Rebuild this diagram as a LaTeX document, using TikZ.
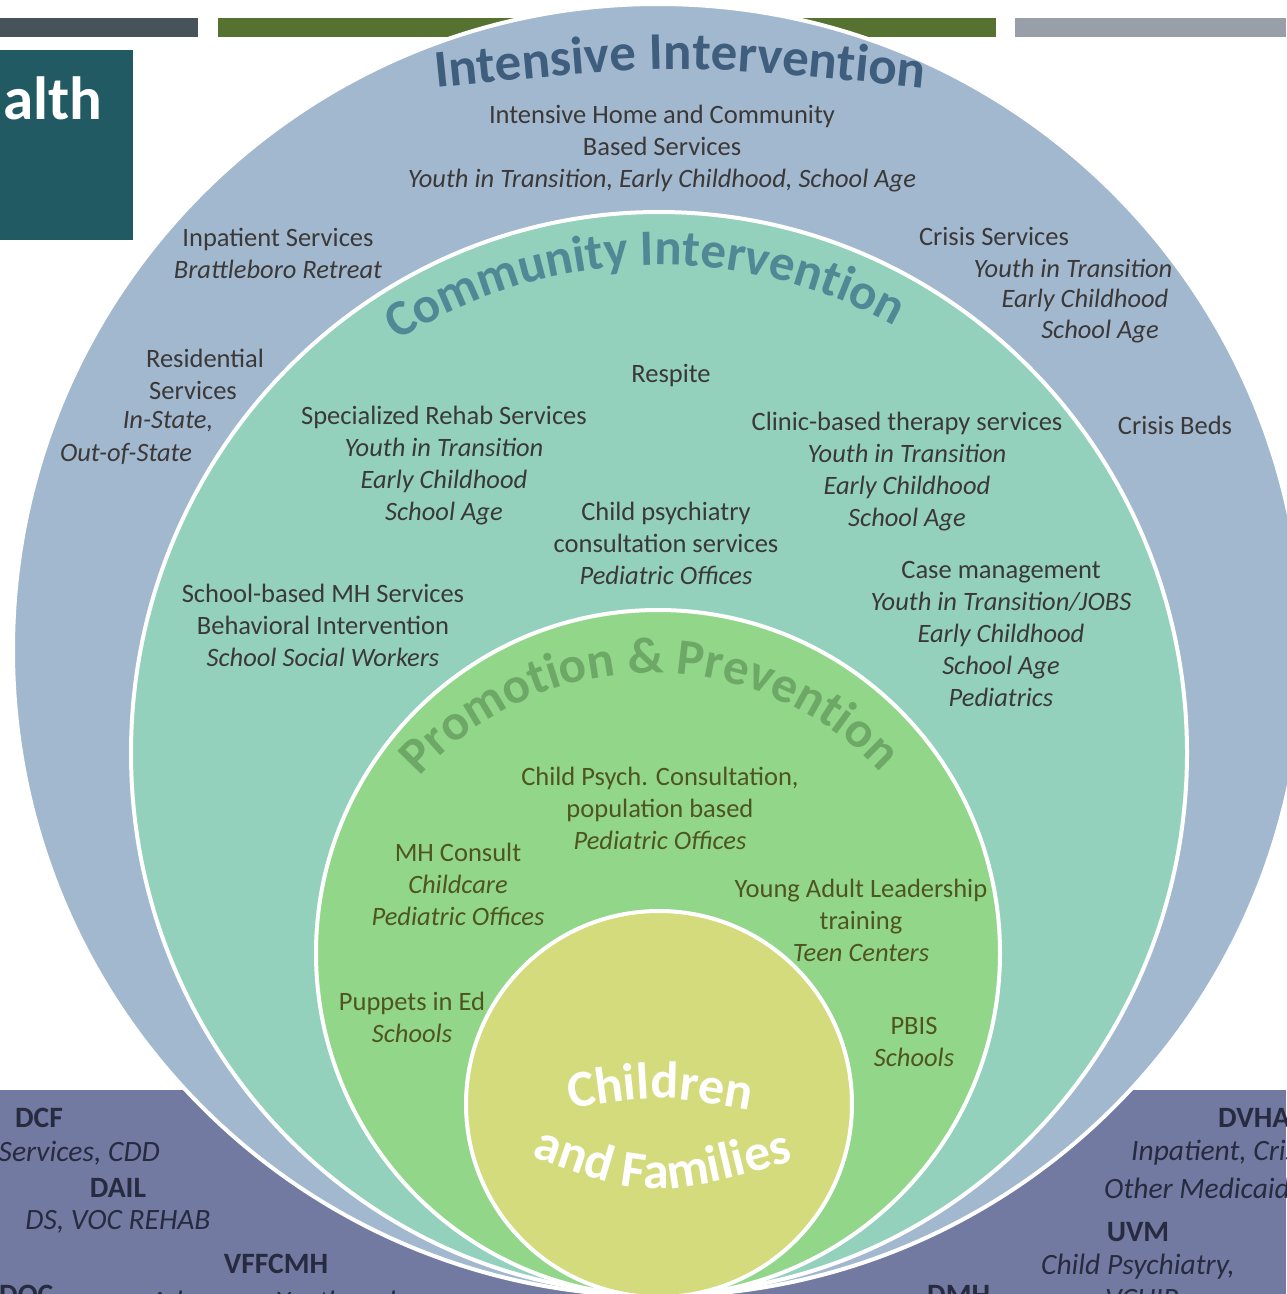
\documentclass[tikz,border=0pt]{standalone}
\usepackage{fontspec}
\setmainfont{Carlito}
\usetikzlibrary{decorations.text}

\definecolor{ringblue}{HTML}{A2B8CF}
\definecolor{ringteal}{HTML}{93D1BC}
\definecolor{ringgreen}{HTML}{92D68A}
\definecolor{ringyellow}{HTML}{D4DB7C}
\definecolor{panelpurple}{HTML}{727AA1}
\definecolor{barslate}{HTML}{46535B}
\definecolor{barolive}{HTML}{567230}
\definecolor{bargray}{HTML}{989FA9}
\definecolor{brandteal}{HTML}{215A63}
\definecolor{intensivecol}{HTML}{3F5E7E}
\definecolor{communitycol}{HTML}{528896}
\definecolor{promotioncol}{HTML}{6DA866}
\definecolor{txtdark}{HTML}{3B3838}
\definecolor{txtolive}{HTML}{4E5520}
\definecolor{txtnavy}{HTML}{262B40}

\newcommand\intensivefont{\fontsize{53}{53}\selectfont\bfseries\color{intensivecol}}
\newcommand\communityfont{\fontsize{51}{51}\selectfont\bfseries\color{communitycol}}
\newcommand\promotionfont{\fontsize{51}{51}\selectfont\bfseries\color{promotioncol}}
\newcommand\kidsfont{\fontsize{52}{52}\selectfont\bfseries\color{white}}

\begin{document}
\begin{tikzpicture}[x=1pt, y=1pt,
    ring/.style={draw=white, line width=4pt},
    lbl/.style={font=\fontsize{26.5}{32}\selectfont, text=txtdark, align=center, inner sep=0pt},
    olive/.style={lbl, text=txtolive},
    agency/.style={font=\fontsize{29.5}{32}\selectfont\bfseries, text=txtnavy, inner sep=0pt},
    agencynote/.style={font=\fontsize{29.5}{32}\selectfont\itshape, text=txtnavy, inner sep=0pt},
    arctext/.style={decorate, decoration={text along path, text align=center, text={#1}}}
  ]
  \useasboundingbox (0,0) rectangle (1286,-1294);

  \coordinate (outer) at (658,-650);
  \coordinate (community) at (659,-753);
  \coordinate (promotion) at (658,-953);
  \coordinate (promoarc) at (652,-985);
  \coordinate (kids) at (659,-1104);

  \fill[panelpurple] (0,-1090) rectangle (1286,-1300);
  \fill[barslate] (0,-18) rectangle (198,-37);
  \fill[barolive] (218,-18) rectangle (996,-37);
  \fill[bargray] (1015,-18) rectangle (1286,-37);
  \fill[brandteal] (0,-50) rectangle (133,-240);
  \node[anchor=base west, font=\fontsize{61}{61}\selectfont\bfseries, text=white, inner sep=0pt] (brand) at (3,-119) {alth};

  \draw[ring, fill=ringblue] (outer) ellipse [x radius=645pt, y radius=646pt];
  \draw[ring, fill=ringteal] (community) ellipse [x radius=528pt, y radius=541pt];
  \draw[ring, fill=ringgreen] (promotion) ellipse [x radius=342pt, y radius=343pt];
  \draw[ring, fill=ringyellow] (kids) circle [radius=193pt];

  \path[arctext={|\intensivefont|Intensive Intervention}] (426,-89) .. controls (680,-63) .. (934,-89);
  \path[arctext={|\communityfont|Community Intervention}] (community) ++(155:488pt) arc[start angle=155, end angle=28.5, radius=488pt];
  \path[arctext={|\promotionfont|Promotion {\&} Prevention}] (promoarc) ++(150:312pt) arc[start angle=150, end angle=31, radius=312pt];
  \path[arctext={|\kidsfont|Children}] (560,-1110) .. controls (660,-1094) .. (760,-1112);
  \path[arctext={|\kidsfont|and Families}] (518,-1152) .. controls (650,-1200) .. (807,-1158);

  \node[lbl] (homebased) at (662,-149) {Intensive Home and Community\\Based Services\\\textit{Youth in Transition, Early Childhood, School Age}};
  \node[lbl] (inpatient) at (278,-253) {Inpatient Services\\\textit{Brattleboro Retreat}};
  \node[lbl] (crisis) at (994,-236) {Crisis Services};
  \node[lbl] (crisisyouth) at (1073,-268) {\textit{Youth in Transition}};
  \node[lbl] (crisisearly) at (1085,-300) {\textit{Early Childhood}};
  \node[lbl] (crisisschool) at (1100,-332) {\textit{School Age}};
  \node[lbl] (crisisbeds) at (1175,-425) {Crisis Beds};
  \node[lbl] (resid) at (205,-358) {Residential};
  \node[lbl] (residserv) at (193,-390) {Services};
  \node[lbl] (residin) at (168,-422) {\textit{In-State,}};
  \node[lbl] (residout) at (126,-454) {\textit{Out-of-State}};

  \node[lbl] (respite) at (671,-376) {Respite};
  \node[lbl] (rehab) at (444,-466) {Specialized Rehab Services\\\textit{Youth in Transition}\\\textit{Early Childhood}\\\textit{School Age}};
  \node[lbl] (clinic) at (907,-472) {Clinic-based therapy services\\\textit{Youth in Transition}\\\textit{Early Childhood}\\\textit{School Age}};
  \node[lbl] (psychconsult) at (666,-543) {Child psychiatry\\consultation services\\\textit{Pediatric Offices}};
  \node[lbl] (schoolmh) at (323,-625) {School-based MH Services\\Behavioral Intervention\\\textit{School Social Workers}};
  \node[lbl] (casemgmt) at (1001,-634) {Case management\\\textit{Youth in Transition/JOBS}\\\textit{Early Childhood}\\\textit{School Age}\\\textit{Pediatrics}};

  \node[olive] (popconsult) at (660,-808) {Child Psych. Consultation,\\population based\\\textit{Pediatric Offices}};
  \node[olive] (mhconsult) at (458,-884) {MH Consult\\\textit{Childcare}\\\textit{Pediatric Offices}};
  \node[olive] (leadership) at (861,-920) {Young Adult Leadership\\training\\\textit{Teen Centers}};
  \node[olive] (puppets) at (412,-1017) {Puppets in Ed\\\textit{Schools}};
  \node[olive] (pbis) at (914,-1042) {PBIS\\\textit{Schools}};

  \node[agency] (dcf) at (39,-1118) {DCF};
  \node[agencynote, anchor=east] (dcfnote) at (160,-1153) {Services, CDD};
  \node[agency] (dail) at (118,-1188) {DAIL};
  \node[agencynote] (dailnote) at (118,-1222) {DS, VOC REHAB};
  \node[agency] (vffcmh) at (276,-1264) {VFFCMH};
  \node[agency, anchor=base west] (doc) at (-1,-1304) {DOC};
  \node[agencynote, anchor=base west] (vffnote) at (150,-1311) {Advocacy, Youth and};
  \node[agency, anchor=west] (dvha) at (1218,-1118) {DVHA};
  \node[agencynote, anchor=west] (dvhanote) at (1131,-1153) {Inpatient, Crisis,};
  \node[agencynote, anchor=west] (dvhamore) at (1104,-1188) {Other Medicaid};
  \node[agency] (uvm) at (1138,-1232) {UVM};
  \node[agencynote] (uvmnote) at (1138,-1267) {Child Psychiatry,};
  \node[agency, anchor=base west] (dmh) at (927,-1304) {DMH};
  \node[agencynote, anchor=base west] (vchip) at (1105,-1308) {VCHIP};
\end{tikzpicture}
\end{document}
